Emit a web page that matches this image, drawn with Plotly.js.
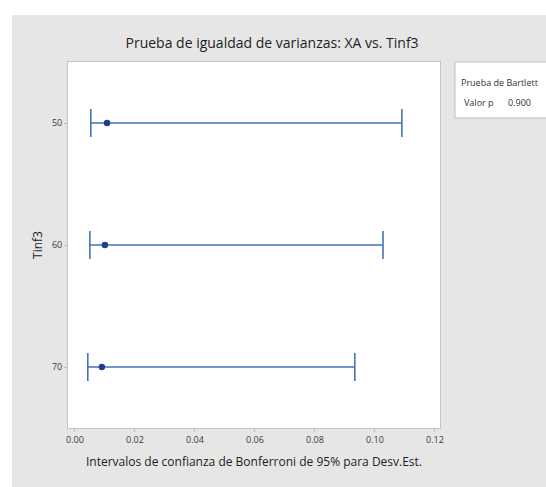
<!DOCTYPE html>
<html>
<head>
<meta charset="utf-8">
<script src="https://cdn.plot.ly/plotly-3.0.1.min.js"></script>
<style>
  html, body { margin: 0; padding: 0; background: #ffffff; width: 546px; height: 487px; overflow: hidden; }
  #chart { position: absolute; left: 12px; top: 15px; width: 534px; height: 472px; }
</style>
</head>
<body>
<div id="chart"></div>
<script>
// Data
const categories = ['50', '60', '70'];
const stdev = [0.0107, 0.0100, 0.0090];
const lower = [0.0053, 0.0050, 0.0043];
const upper = [0.1090, 0.1027, 0.0933];
const xTicks = [0.00, 0.02, 0.04, 0.06, 0.08, 0.10, 0.12];
const xTickLabels = ['0.00', '0.02', '0.04', '0.06', '0.08', '0.10', '0.12'];
const titleText = 'Prueba de igualdad de varianzas: XA vs. Tinf3';
const xTitle = 'Intervalos de confianza de Bonferroni de 95% para Desv.Est.';
const yTitle = 'Tinf3';
const testName = 'Prueba de Bartlett';
const pLabel = 'Valor p';
const pValue = '0.900';

const errPlus = upper.map((u, i) => u - stdev[i]);
const errMinus = lower.map((l, i) => stdev[i] - l);

const FONT = 'Open Sans, DejaVu Sans, sans-serif';

const trace = {
  type: 'scatter',
  mode: 'markers',
  x: stdev,
  y: categories,
  marker: { color: '#1f3f8c', size: 6.5, symbol: 'circle' },
  error_x: {
    type: 'data',
    symmetric: false,
    array: errPlus,
    arrayminus: errMinus,
    color: '#4674b6',
    thickness: 1.6,
    width: 14
  },
  hoverinfo: 'x+y',
  showlegend: false
};

const layout = {
  width: 534,
  height: 472,
  margin: { l: 56, r: 106, t: 47, b: 59 },
  paper_bgcolor: '#e6e6e6',
  plot_bgcolor: '#ffffff',
  font: { family: FONT, color: '#333333' },
  title: {
    text: titleText,
    font: { family: FONT, size: 14, color: '#1e1e1e' },
    xref: 'container', yref: 'container',
    x: 0.487, xanchor: 'center',
    y: 0.941, yanchor: 'middle'
  },
  xaxis: {
    range: [-0.0023, 0.1217],
    tickvals: xTicks,
    ticktext: xTickLabels,
    showgrid: false,
    zeroline: false,
    showline: true,
    mirror: true,
    linecolor: '#c4c4c4',
    linewidth: 1,
    ticks: 'outside',
    ticklen: 3,
    tickcolor: '#c0c0c0',
    tickfont: { family: FONT, size: 9, color: '#3a3a3a' },
    title: { text: xTitle, font: { family: FONT, size: 12, color: '#1e1e1e' }, standoff: 12 }
  },
  yaxis: {
    type: 'category',
    categoryorder: 'array',
    categoryarray: categories,
    range: [2.5, -0.5],
    showgrid: false,
    zeroline: false,
    showline: true,
    mirror: true,
    linecolor: '#c4c4c4',
    linewidth: 1,
    ticks: 'outside',
    ticklen: 3,
    tickcolor: '#c0c0c0',
    tickfont: { family: FONT, size: 9, color: '#3a3a3a' },
    title: { text: yTitle, font: { family: FONT, size: 12, color: '#1e1e1e' }, standoff: 6 }
  },
  shapes: [
    {
      type: 'rect', xref: 'paper', yref: 'paper',
      x0: 1.0403, x1: 1.32, y0: 0.847, y1: 1.0,
      fillcolor: '#ffffff', line: { color: '#bdbdbd', width: 1 }, layer: 'below'
    }
  ],
  annotations: [
    {
      xref: 'paper', yref: 'paper', x: 1.052, y: 0.943,
      xanchor: 'left', yanchor: 'middle', showarrow: false,
      text: testName, font: { family: FONT, size: 9, color: '#333333' }
    },
    {
      xref: 'paper', yref: 'paper', x: 1.06, y: 0.888,
      xanchor: 'left', yanchor: 'middle', showarrow: false,
      text: pLabel, font: { family: FONT, size: 9, color: '#333333' }
    },
    {
      xref: 'paper', yref: 'paper', x: 1.25, y: 0.888,
      xanchor: 'right', yanchor: 'middle', showarrow: false,
      text: pValue, font: { family: FONT, size: 9, color: '#333333' }
    }
  ]
};

Plotly.newPlot('chart', [trace], layout, { displayModeBar: false, staticPlot: true });
</script>
</body>
</html>
